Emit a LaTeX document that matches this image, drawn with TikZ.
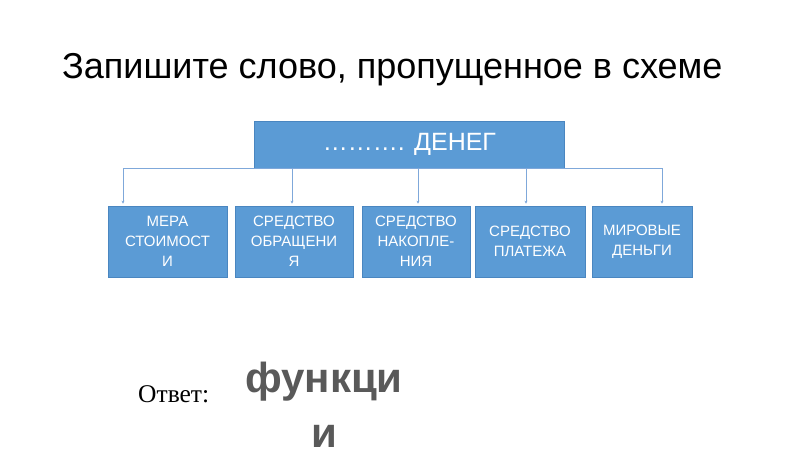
\documentclass[tikz,border=0pt]{standalone}
\usepackage{fontspec}
\setmainfont{Liberation Serif}
\setsansfont{Liberation Sans}
\usetikzlibrary{arrows.meta}
\definecolor{boxfill}{HTML}{5B9BD5}
\definecolor{boxline}{HTML}{4A86C0}
\definecolor{conn}{HTML}{7FA8DA}
\definecolor{answergray}{HTML}{595959}
\tikzset{
  box/.style={draw=boxline, line width=0.7pt, fill=boxfill, text=white, align=center,
    inner sep=0pt, font=\sffamily\fontsize{15}{20}\selectfont},
  conline/.style={draw=conn, line width=0.8pt},
  conarrow/.style={conline, -{Stealth[length=3pt,width=3pt]}, shorten >=2pt}
}
\begin{document}
\begin{tikzpicture}[x=1pt,y=-1pt]
\useasboundingbox (0,0) rectangle (800,450);
\fill[white] (0,0) rectangle (800,450);
\node[anchor=base west, inner sep=0pt, font=\sffamily\fontsize{36}{40}\selectfont] (title) at (62,78) {Запишите слово, пропущенное в схеме};
\node[box, minimum width=310pt, minimum height=47pt, font=\sffamily\fontsize{25}{28}\selectfont] (top) at (409.5,144.5) {………. ДЕНЕГ};
\node[box, minimum width=119pt, minimum height=71pt] (m1) at (167.5,241.5) {МЕРА\\СТОИМОСТ\\И};
\node[box, minimum width=118pt, minimum height=71pt] (m2) at (294,241.5) {СРЕДСТВО\\ОБРАЩЕНИ\\Я};
\node[box, minimum width=108pt, minimum height=71pt] (m3) at (416,241.5) {СРЕДСТВО\\НАКОПЛЕ-\\НИЯ};
\node[box, minimum width=110pt, minimum height=71pt] (m4) at (530,241.5) {СРЕДСТВО\\ПЛАТЕЖА};
\node[box, minimum width=100pt, minimum height=71pt] (m5) at (642,241.5) {МИРОВЫЕ\\ДЕНЬГИ};
\coordinate (c1) at (123,168);
\coordinate (c2) at (292,168);
\coordinate (c3) at (418,168);
\coordinate (c4) at (526,168);
\coordinate (c5) at (662,168);
\draw[conline] (c1) -- (c5);
\draw[conarrow] (c1) -- (c1 |- m1.north);
\draw[conarrow] (c2) -- (c2 |- m2.north);
\draw[conarrow] (c3) -- (c3 |- m3.north);
\draw[conarrow] (c4) -- (c4 |- m4.north);
\draw[conarrow] (c5) -- (c5 |- m5.north);
\node[anchor=base west, inner sep=0pt, font=\rmfamily\fontsize{25.5}{28}\selectfont] (lbl) at (138,402) {Ответ:};
\node[anchor=base, inner sep=0pt, text=answergray, font=\sffamily\bfseries\fontsize{42}{55}\selectfont, align=center] (ans) at (324,447) {функци\\и};
\end{tikzpicture}
\end{document}
